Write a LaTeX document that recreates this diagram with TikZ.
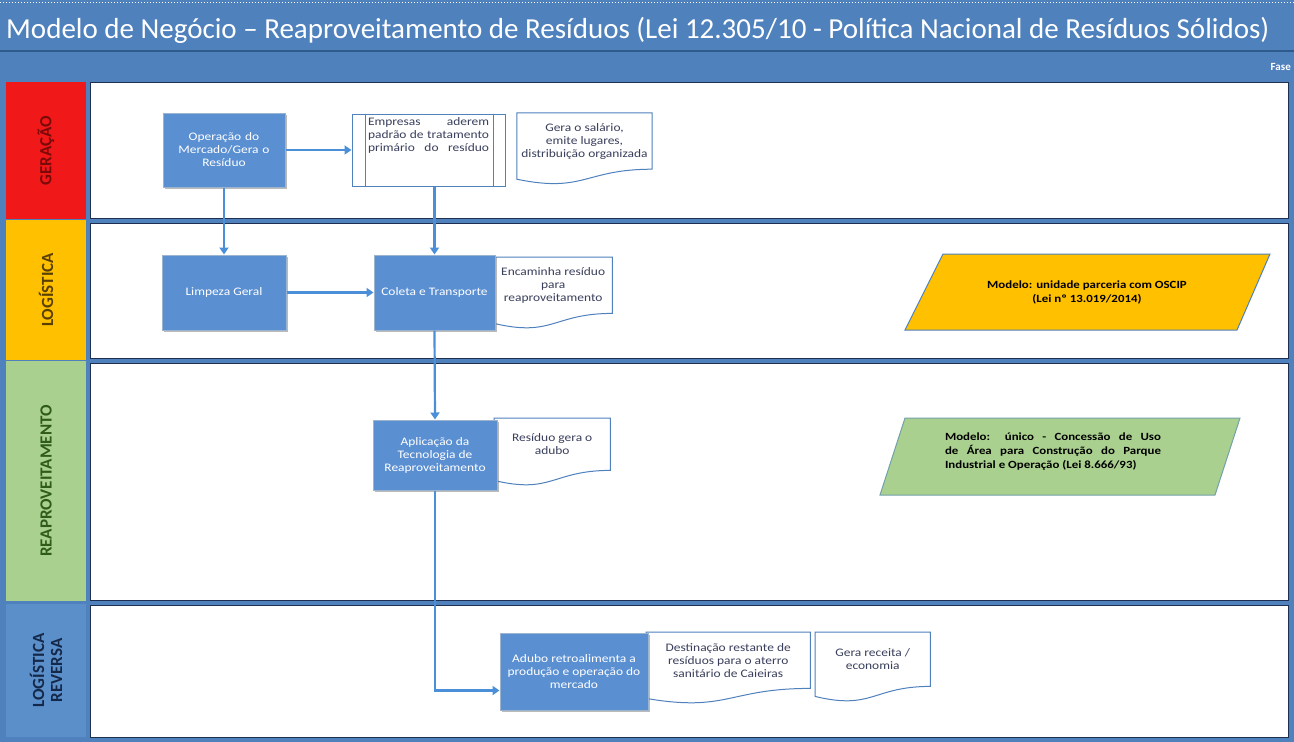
\documentclass[tikz,border=0pt]{standalone}
\usepackage{fontspec}
\setmainfont{Carlito}
\newfontfamily\dfont[FakeStretch=1.17]{Carlito}
\usetikzlibrary{calc,shadows,arrows.meta}
\definecolor{bgblue}{HTML}{4F81BD}
\definecolor{darkline}{HTML}{2E5A8C}
\definecolor{boxblue}{HTML}{5A8FD2}
\definecolor{boxedge}{HTML}{9DB4CF}
\definecolor{conn}{HTML}{4A8FD8}
\definecolor{gerred}{HTML}{F01818}
\definecolor{gertxt}{HTML}{7A0A0A}
\definecolor{logyel}{HTML}{FFC000}
\definecolor{logtxt}{HTML}{5A4000}
\definecolor{reagreen}{HTML}{A9D08E}
\definecolor{reatxt}{HTML}{2E5A1A}
\definecolor{revblue}{HTML}{5B8FC9}
\definecolor{revtxt}{HTML}{14284A}
\definecolor{doctxt}{HTML}{3A3F5C}
\definecolor{navy}{HTML}{1F2F4F}
\tikzset{
  lanelabel/.style={rotate=90, inner sep=0pt, font=\fontsize{17}{18}\selectfont\bfseries, align=center},
  lanebody/.style={fill=white, draw=navy, line width=0.8pt, inner sep=0pt},
  bluebox/.style={fill=boxblue, draw=boxedge, line width=1pt, text=white, align=center,
    font=\dfont\fontsize{11.5}{13}\selectfont, inner sep=2pt,
    drop shadow={shadow xshift=2pt, shadow yshift=-2pt, opacity=0.45, fill=black!60}},
  docnode/.style={inner sep=2pt, text=doctxt, align=center, font=\dfont\fontsize{11.5}{13}\selectfont},
  docline/.style={draw=bgblue, line width=1pt},
  conline/.style={draw=conn, line width=2.2pt},
  conarrow/.style={conline, -{Triangle[length=7pt,width=9pt]}},
  paratext/.style={text=black, align=center, font=\dfont\fontsize{11}{14}\selectfont\bfseries}
}
% document shape: node covers the upper part; wave drawn below its south edge
\newcommand\docshape[1]{%
  \draw[docline] ($(#1.south west)+(0,10)$) -- (#1.north west) -- (#1.north east) -- (#1.south east)
    .. controls (#1.south) and ($(#1.south)+(0,24)$) .. ($(#1.south west)+(0,10)$) -- cycle;}
\begin{document}
\begin{tikzpicture}[x=1pt,y=-1pt]
\useasboundingbox (0,0) rectangle (1294,742);
\fill[bgblue] (0,0) rectangle (1294,742);
\draw[white, dotted, line width=1pt] (0,2) -- (1294,2);
\draw[darkline, line width=1.5pt] (0,51) -- (1294,51);
\node[anchor=west, text=white, inner sep=0pt, font=\fontsize{29}{32}\selectfont] (title) at (6,30)
  {Modelo de Negócio – Reaproveitamento de Resíduos (Lei 12.305/10 - Política Nacional de Resíduos Sólidos)};
\node[anchor=east, text=white, inner sep=0pt, font=\fontsize{11}{12}\selectfont\bfseries] (fase) at (1291,67) {Fase};

% lane labels
\node[lanelabel, fill=gerred, text=gertxt, minimum width=137, minimum height=80] (lab1) at (46,150.5) {GERAÇÃO};
\node[lanelabel, fill=logyel, text=logtxt, minimum width=140, minimum height=80] (lab2) at (46,290) {LOGÍSTICA};
\node[lanelabel, fill=reagreen, text=reatxt, minimum width=240, minimum height=80] (lab3) at (46,481) {REAPROVEITAMENTO};
\node[lanelabel, fill=revblue, text=revtxt, minimum width=133, minimum height=80] (lab4) at (46,670.5) {LOGÍSTICA\\REVERSA};

% lane bodies
\node[lanebody, minimum width=1198, minimum height=136] (body1) at (689,150) {};
\node[lanebody, minimum width=1198, minimum height=135] (body2) at (689,290.5) {};
\node[lanebody, minimum width=1198, minimum height=237] (body3) at (689,481.5) {};
\node[lanebody, minimum width=1198, minimum height=132] (body4) at (689,671) {};

% GERAÇÃO
\node[bluebox, minimum width=122, minimum height=74, text width=110] (op) at (224,150) {Operação do\\Mercado/Gera o\\Resíduo};
\node[fill=white, draw=bgblue, line width=1pt, minimum width=153, minimum height=72, inner sep=0pt,
      text=doctxt, font=\dfont\fontsize{11.5}{13}\selectfont] (pre) at (428.5,150)
  {\parbox[c][66pt][t]{121pt}{\vspace{1pt}\hyphenpenalty=10000\relax\parfillskip=0pt\relax Empresas aderem padrão de tratamento primário do resíduo}};
\draw[bgblue, line width=1pt] ($(pre.north west)+(14,0)$) -- ($(pre.south west)+(14,0)$)
  ($(pre.north east)+(-12,0)$) -- ($(pre.south east)+(-12,0)$);
\node[docnode, minimum width=135, minimum height=56] (doc1) at (584.5,141) {Gera o salário,\\emite lugares,\\distribuição organizada};
\docshape{doc1}

% LOGÍSTICA
\node[bluebox, minimum width=124, minimum height=75] (limp) at (224,292.5) {Limpeza Geral};
\node[docnode, minimum width=118, minimum height=56, anchor=north west] (doc2) at (494,257) {Encaminha resíduo\\para\\reaproveitamento};
\docshape{doc2}
\node[bluebox, minimum width=121, minimum height=75] (col) at (434.5,292.5) {Coleta e Transporte};
\fill[logyel, draw=bgblue, line width=1pt] (943,254) -- (1270,254) -- (1237,330) -- (905,330) -- cycle;
\node[paratext] (para1) at (1087,292) {Modelo: unidade parceria com OSCIP\\(Lei nº 13.019/2014)};

% REAPROVEITAMENTO
\node[docnode, minimum width=116, minimum height=52, anchor=north west] (doc3) at (494,418) {Resíduo gera o\\adubo};
\docshape{doc3}
\node[bluebox, minimum width=124, minimum height=70] (apl) at (435,455) {Aplicação da\\Tecnologia de\\Reaproveitamento};
\fill[reagreen, draw=bgblue!60!reagreen, line width=1pt] (905,418) -- (1240,418) -- (1215,495) -- (880,495) -- cycle;
\node[paratext, align=justify, text width=216] (para2) at (1053,452)
  {Modelo: único - Concessão de Uso de Área para Construção do Parque \mbox{Industrial} e Operação (Lei 8.666/93)};

% LOGÍSTICA REVERSA
\node[docnode, minimum width=164, minimum height=56, anchor=north west] (doc4) at (646,632) {Destinação restante de\\resíduos para o aterro\\sanitário de Caieiras};
\docshape{doc4}
\node[bluebox, minimum width=148, minimum height=77] (adubo) at (574,671.5) {Adubo retroalimenta a\\produção e operação do\\mercado};
\node[docnode, minimum width=115, minimum height=54, anchor=north west] (doc5) at (815,632) {Gera receita /\\economia};
\docshape{doc5}

% connectors
\draw[conarrow] (op.east) -- (pre.west);
\draw[conarrow] (op.south) -- (limp.north);
\draw[conarrow] (pre.south -| col.north) -- (col.north);
\draw[conarrow] (limp.east) -- (col.west);
\draw[conarrow] (col.south) -- (apl.north);
\coordinate (turn) at ($(adubo.west)+(0,19)$);
\draw[conarrow] (apl.south) |- (turn);
\end{tikzpicture}
\end{document}
